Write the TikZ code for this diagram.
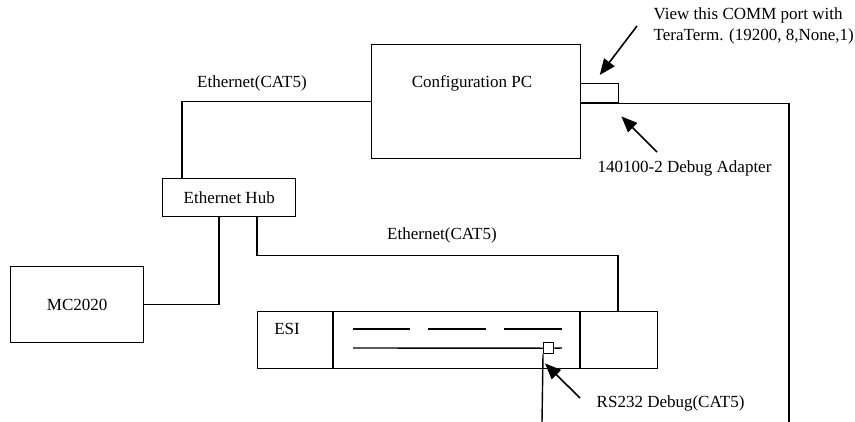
\documentclass[tikz,border=0pt]{standalone}
\usepackage{fontspec}
\setmainfont{Liberation Serif}
\usetikzlibrary{positioning,arrows.meta}
\tikzset{
  unitbox/.style={draw,inner sep=0pt,anchor=north west},
  lbl/.style={inner sep=0pt},
  callout/.style={-{Triangle[length=8pt,width=6.5pt]},line width=0.8pt}
}

\begin{document}
\begin{tikzpicture}[x=0.5pt,y=-0.5pt,line width=0.7pt,
    font=\fontsize{8.5}{10.5}\selectfont]
        \useasboundingbox (0,0) rectangle (855,422);

        \node[unitbox,minimum width=104.5pt,minimum height=57pt] (pc) at (371,44) {};
        \node[lbl] (pclabel) at (472,83) {Configuration PC};
        \node[unitbox,minimum width=19pt,minimum height=9.5pt] (port) at (580,83) {};

        \node[unitbox,minimum width=66.5pt,minimum height=19pt] (hub) at (162,178) {Ethernet Hub};
        \node[unitbox,minimum width=66.5pt,minimum height=38pt] (mc) at (10,266) {MC2020};

        \node[unitbox,minimum width=200pt,minimum height=28.5pt] (esi) at (257,311) {};
        \node[lbl] (esilabel) at (287,329) {ESI};
        \draw ([xshift=38pt]esi.north west) -- ([xshift=38pt]esi.south west);
        \draw ([xshift=161.5pt]esi.north west) -- ([xshift=161.5pt]esi.south west);
        \foreach \a/\b in {353/410,428/486,504/562}
          \draw (\a,329) -- (\b,329);
        \node[unitbox,minimum width=5pt,minimum height=5.5pt] (rsport) at (543,342) {};
        \draw (353,348) -- (rsport.west);
        \draw (rsport.east) -- (562,348);

        \node[lbl] (eth1) at (252,83) {Ethernet(CAT5)};
        \node[lbl] (eth2) at (442,235) {Ethernet(CAT5)};

        \coordinate (pcend) at (789,422);
        \coordinate (rsend) at (542,422);

        \draw (pc.west) -| ([xshift=10pt]hub.north west);
        \draw ([xshift=28.5pt]hub.south west) |- (mc.east);
        \draw ([xshift=47.5pt]hub.south west) -- ++(0,-19pt)
          -| ([xshift=180.5pt]esi.north west);
        \draw (port.south west) -| (pcend);
        \draw (rsport.south west) -- (rsend);

        \node[lbl,anchor=west,align=left] (commnote) at (653,26)
          {View this COMM port with\\TeraTerm. (19200, 8,None,1)};
        \node[lbl,anchor=west] (adapternote) at (597,168) {140100-2 Debug Adapter};
        \node[lbl,anchor=west] (rsnote) at (596,403) {RS232 Debug(CAT5)};

        \draw[callout] ([xshift=-8pt]commnote.west) -- ([yshift=4pt]port.north);
        \draw[callout] ([shift={(30pt,8pt)}]adapternote.west)
          -- ([shift={(1pt,-6.5pt)}]port.south east);
        \draw[callout] ([shift={(-8pt,2.5pt)}]rsnote.west)
          -- ([shift={(1pt,-4.5pt)}]rsport.south west);
      \end{tikzpicture}
\end{document}
